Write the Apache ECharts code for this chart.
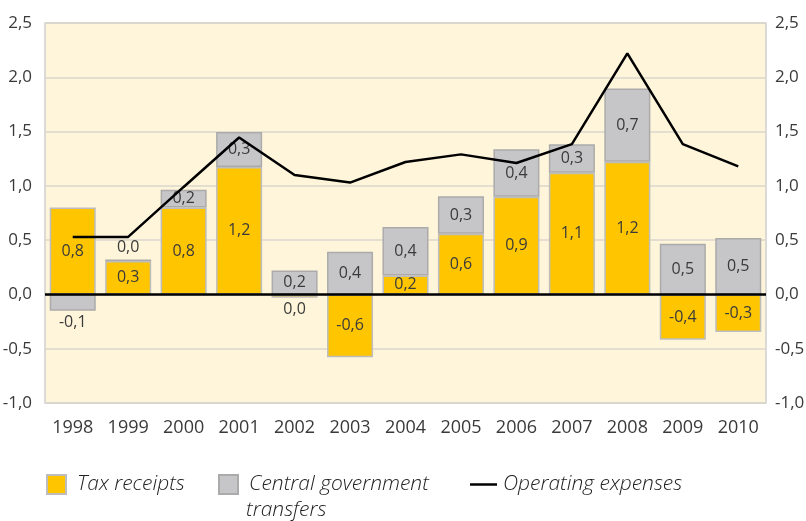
<!DOCTYPE html>
<html>
<head>
<meta charset="utf-8">
<script src="https://cdn.jsdelivr.net/npm/echarts@6/dist/echarts.min.js"></script>
<style>html,body{margin:0;padding:0;background:#fff}#c{width:806px;height:521px}</style>
</head>
<body>
<div id="c"></div>
<script>
const years = ['1998','1999','2000','2001','2002','2003','2004','2005','2006','2007','2008','2009','2010'];
const taxReceipts = [0.80, 0.307, 0.80, 1.174, -0.03, -0.578, 0.175, 0.56, 0.90, 1.12, 1.223, -0.418, -0.345];
const govTransfers = [-0.15, 0.015, 0.165, 0.323, 0.22, 0.393, 0.445, 0.344, 0.437, 0.264, 0.674, 0.467, 0.52];
const operatingExpenses = [0.53, 0.53, 0.99, 1.445, 1.10, 1.03, 1.22, 1.29, 1.21, 1.384, 2.22, 1.384, 1.18];
const taxLabels = ['0,8','0,3','0,8','1,2','0,0','-0,6','0,2','0,6','0,9','1,1','1,2','-0,4','-0,3'];
const transferLabels = ['-0,1','0,0','0,2','0,3','0,2','0,4','0,4','0,3','0,4','0,3','0,7','0,5','0,5'];
const yTickValues = [-1, -0.5, 0, 0.5, 1, 1.5, 2, 2.5];
const yTickLabels = ['-1,0','-0,5','0,0','0,5','1,0','1,5','2,0','2,5'];
const seriesNames = ['Tax receipts', 'Central government transfers', 'Operating expenses'];
const legendLines = ['Central government', 'transfers'];

const taxPos = {4: 'bottom'};
const transferPos = {0: 'bottom', 1: 'top'};

function yLabel(v) {
  for (let i = 0; i < yTickValues.length; i++) {
    if (Math.abs(yTickValues[i] - v) < 1e-6) return yTickLabels[i];
  }
  return '';
}

const font = "'Open Sans', 'Noto Sans', sans-serif";
const txt = '#3a3a3a';
const labelBase = {show: true, fontFamily: font, fontSize: 16, color: txt, distance: 4};

const chart = echarts.init(document.getElementById('c'), null, {renderer: 'canvas'});
const yAxisBase = {
  type: 'value', min: -1, max: 2.5, interval: 0.5,
  axisLine: {show: false}, axisTick: {show: false}
};
const yLabelStyle = {fontFamily: font, fontSize: 17, color: txt, formatter: yLabel};
const legendText = {fontFamily: font, fontSize: 21, fontStyle: 'italic', fontWeight: 300, color: '#222'};

chart.setOption({
  animation: false,
  grid: {left: 45, right: 40, top: 23, bottom: 118, show: true, backgroundColor: '#FEF5DA', borderColor: '#CFCFCF', borderWidth: 1.5, outerBoundsMode: 'none', containLabel: false},
  xAxis: {
    type: 'category', data: years,
    axisLine: {show: false}, axisTick: {show: false},
    axisLabel: {fontFamily: font, fontSize: 18, color: txt, margin: 16}
  },
  yAxis: [
    Object.assign({}, yAxisBase, {position: 'left', axisLabel: Object.assign({margin: 13}, yLabelStyle), splitLine: {lineStyle: {color: '#DAD6CB', width: 1.5}}}),
    Object.assign({}, yAxisBase, {position: 'right', axisLabel: Object.assign({margin: 9}, yLabelStyle), splitLine: {show: false}})
  ],
  legend: [
    {data: [seriesNames[0]], icon: 'rect', left: 46, top: 474, padding: 0, itemWidth: 19, itemHeight: 19, textStyle: Object.assign({padding: [0,0,0,6]}, legendText)},
    {data: [seriesNames[1]], icon: 'rect', left: 218, top: 474, padding: 0, itemWidth: 19, itemHeight: 19,
      formatter: function(){ return legendLines[0]; },
      textStyle: Object.assign({padding: [0,0,0,6]}, legendText)},
    {data: [seriesNames[2]], icon: 'rect', left: 470, top: 474, padding: 0, itemWidth: 27, itemHeight: 2.5, textStyle: Object.assign({padding: [0,0,0,1]}, legendText)}
  ],
  graphic: [
    {type: 'text', left: 246, top: 500, style: {text: legendLines[1], fill: '#222', font: "italic 300 21px 'Open Sans', 'Noto Sans', sans-serif"}}
  ],
  series: [
    {
      name: seriesNames[0], type: 'bar', stack: 'a', barCategoryGap: '17%',
      itemStyle: {color: '#FFC600', borderColor: '#BDBDBD', borderWidth: 1.5},
      label: Object.assign({position: 'inside', formatter: p => taxLabels[p.dataIndex]}, labelBase),
      data: taxReceipts.map((v, i) => taxPos[i] ? {value: v, label: {position: taxPos[i]}} : v)
    },
    {
      name: seriesNames[1], type: 'bar', stack: 'a', barCategoryGap: '17%',
      itemStyle: {color: '#C6C6C8', borderColor: '#ABABAB', borderWidth: 1.5},
      label: Object.assign({position: 'inside', formatter: p => transferLabels[p.dataIndex]}, labelBase),
      data: govTransfers.map((v, i) => transferPos[i] ? {value: v, label: {position: transferPos[i]}} : v)
    },
    {
      name: seriesNames[2], type: 'line', symbol: 'none', showSymbol: false, z: 5,
      lineStyle: {color: '#000', width: 2.5},
      itemStyle: {color: '#000'},
      data: operatingExpenses,
      markLine: {
        silent: true, symbol: 'none', label: {show: false},
        lineStyle: {color: '#000', width: 2.5, type: 'solid'},
        data: [{yAxis: 0}]
      }
    }
  ]
});
</script>
</body>
</html>
